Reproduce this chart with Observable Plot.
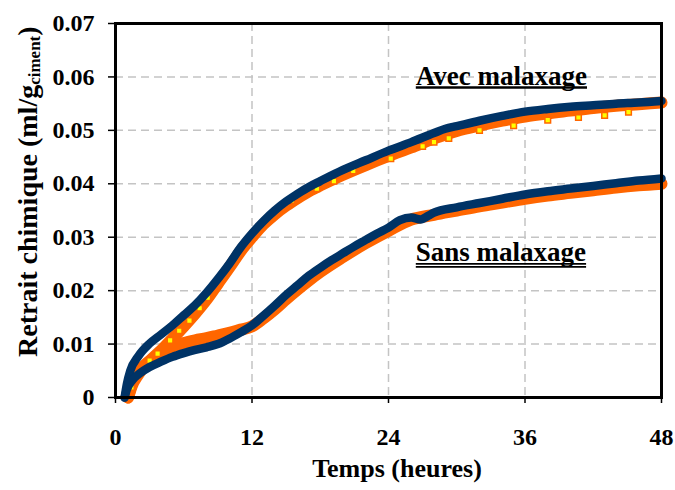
<!DOCTYPE html>
<html><head><meta charset="utf-8">
<script src="https://cdn.jsdelivr.net/npm/d3@7"></script>
<script src="https://cdn.jsdelivr.net/npm/@observablehq/plot@0.6"></script>
<style>body{margin:0;background:#fff;} svg{display:block;}</style>
</head><body><div id="chart"></div>
<script>
// --- Data ---
const xTicks = [0, 12, 24, 36, 48];
const yTicks = [0, 0.01, 0.02, 0.03, 0.04, 0.05, 0.06, 0.07];

// Avec malaxage – navy replicate
const avecBleuT = [0.8,1.0,1.3,2,3,4,5,6,7,8,9,10,11,12,13,14,15,16,17,18,20,22,24,26,28,29,30,32,34,36,38,40,42,44,46,48];
const avecBleuV = [0,0.0025,0.005,0.0077,0.0101,0.0118,0.0135,0.0154,0.0173,0.0196,0.0222,0.0250,0.0281,0.0307,0.0330,0.0350,0.0367,0.0381,0.0394,0.0405,0.0426,0.0444,0.0462,0.0478,0.0495,0.0503,0.0508,0.0518,0.0527,0.0535,0.0540,0.0544,0.0547,0.0550,0.0552,0.0555];

// Avec malaxage – orange replicate
const avecOrangeT = [1.1,1.4,2,3,4,5,6,7,8,9,10,11,12,13,14,15,16,17,18,20,22,24,26,28,30,32,34,36,38,40,42,44,46,48];
const avecOrangeV = [0,0.0020,0.0043,0.0068,0.0088,0.0110,0.0133,0.0157,0.0183,0.0213,0.0243,0.0274,0.0300,0.0324,0.0343,0.0359,0.0373,0.0386,0.0397,0.0417,0.0435,0.0452,0.0468,0.0485,0.0499,0.0509,0.0518,0.0526,0.0532,0.0537,0.0542,0.0546,0.0549,0.0552];

// Avec malaxage – orange replicate, individual marker readings
const avecMarkT = [1.4,2.1,3.0,3.7,4.8,5.6,6.5,7.4,8.1,15.5,17.7,19.2,20.9,24.2,27,28,29.3,32,35,38,40.7,43,45.1];
const avecMarkV = [0.0019,0.0045,0.0069,0.0082,0.0107,0.0125,0.0144,0.0167,0.0187,0.0369,0.0391,0.0405,0.0424,0.0447,0.0470,0.0478,0.0485,0.0500,0.0509,0.0519,0.0524,0.0528,0.0534];

// Sans malaxage – navy replicate
const sansBleuT = [0.8,1.0,1.5,2,3,4,5,6,7,8,9,10,11,12,13,14,15,16,17,18,19,20,21,22,23,24,25,26,26.8,27.5,28,30,32,34,36,38,40,42,44,46,48];
const sansBleuV = [0,0.0015,0.0033,0.0043,0.0057,0.0067,0.0076,0.0083,0.0089,0.0094,0.0100,0.0110,0.0122,0.0135,0.0153,0.0172,0.0192,0.0210,0.0228,0.0243,0.0257,0.0270,0.0283,0.0295,0.0307,0.0318,0.0332,0.0337,0.0333,0.0340,0.0346,0.0356,0.0364,0.0372,0.0380,0.0386,0.0391,0.0396,0.0401,0.0406,0.0410];

// Sans malaxage – orange replicate
const sansOrangeT = [1.1,1.5,2,3,4,5,6,7,8,9,10,11,12,13,14,15,16,17,18,20,22,24,26,28,30,32,34,36,38,40,42,44,46,48];
const sansOrangeV = [0,0.003,0.0048,0.0068,0.0081,0.0095,0.0102,0.0107,0.0111,0.0116,0.0121,0.0127,0.0133,0.0148,0.0165,0.0184,0.0202,0.0219,0.0235,0.0263,0.0289,0.0312,0.0333,0.0342,0.0350,0.0358,0.0365,0.0372,0.0378,0.0383,0.0388,0.0393,0.0397,0.0400];

// Annotations
const noteLabels = ["Avec malaxage", "Sans malaxage"];
const noteT = [26.4, 26.4];
const noteV = [0.0602, 0.0271];
const noteUnderlines = [1, 2]; // single / double underline

// --- Build tables ---
const zip = (T, V) => T.map((t, i) => ({t, v: V[i]}));
const avecBleu = zip(avecBleuT, avecBleuV);
const avecOrange = zip(avecOrangeT, avecOrangeV);
const avecMark = zip(avecMarkT, avecMarkV);
const sansBleu = zip(sansBleuT, sansBleuV);
const sansOrange = zip(sansOrangeT, sansOrangeV);
const notes = noteLabels.map((label, i) => ({label, t: noteT[i], v: noteV[i]}));

const NAVY = "#003366", ORANGE = "#FF6600", YELLOW = "#FFFF00";
const FONT = "'Liberation Serif', 'Times New Roman', serif";
const lineOpts = {x: "t", y: "v", curve: "monotone-x", strokeLinecap: "round", strokeLinejoin: "round"};

const chart = Plot.plot({
  width: 675, height: 490,
  marginLeft: 115, marginRight: 14, marginTop: 23, marginBottom: 93,
  style: {fontFamily: FONT, fontSize: "24px", fontWeight: "bold", color: "#000", background: "#fff"},
  x: {domain: [0, 48], ticks: xTicks, label: null},
  y: {domain: [0, 0.07], ticks: yTicks, label: null},
  marks: [
    Plot.gridX(xTicks.slice(1, -1), {stroke: "#c4c4c4", strokeOpacity: 1, strokeWidth: 1.5, strokeDasharray: "8,5"}),
    Plot.gridY(yTicks.slice(1, -1), {stroke: "#c4c4c4", strokeOpacity: 1, strokeWidth: 1.5, strokeDasharray: "8,5"}),
    Plot.line(avecOrange, {...lineOpts, stroke: ORANGE, strokeWidth: 12}),
    Plot.line(sansOrange, {...lineOpts, stroke: ORANGE, strokeWidth: 12}),
    Plot.dot(avecMark, {x: "t", y: "v", symbol: "square", r: 3.2, fill: YELLOW, stroke: ORANGE, strokeWidth: 1.5}),
    Plot.line(avecBleu, {...lineOpts, stroke: NAVY, strokeWidth: 8.5}),
    Plot.line(sansBleu, {...lineOpts, stroke: NAVY, strokeWidth: 8.5}),
    Plot.axisX({ticks: xTicks, tickSize: 6, tickPadding: 24, label: null, strokeWidth: 1.5}),
    Plot.axisY({ticks: yTicks, tickSize: 7, tickPadding: 14, label: null, strokeWidth: 1.5,
      tickFormat: d => d === 0 ? "0" : d.toFixed(2)}),
    Plot.frame({stroke: "#000", strokeWidth: 3}),
    Plot.text(notes, {x: "t", y: "v", text: "label", textAnchor: "start", lineAnchor: "middle", fontSize: 27, fontWeight: "bold", fill: "#000"})
  ]
});

document.getElementById("chart").appendChild(chart);
const svg = d3.select(chart);

// Underlines under the annotations (single for "Avec", double for "Sans")
svg.selectAll("text").each(function() {
  const idx = noteLabels.indexOf(this.textContent);
  if (idx < 0) return;
  const b = this.getBBox();
  const baseline = b.y + 0.891 * 27;
  const n = noteUnderlines[idx];
  const holder = d3.select(this.parentNode).append("g")
    .attr("transform", this.getAttribute("transform"));
  const offs = n === 1 ? [3] : [2.5, 5.5];
  for (const off of offs) {
    holder.append("line").attr("x1", b.x).attr("x2", b.x + b.width)
      .attr("y1", baseline + off).attr("y2", baseline + off)
      .attr("stroke", "#000").attr("stroke-width", n === 1 ? 2.5 : 1.6);
  }
});

// X axis title
svg.append("text")
  .attr("x", 397).attr("y", 477)
  .attr("text-anchor", "middle")
  .attr("font-family", FONT).attr("font-weight", "bold").attr("font-size", 26)
  .attr("fill", "#000")
  .text("Temps (heures)");

// Y axis title with subscript
const yl = svg.append("text")
  .attr("transform", "translate(37,357) rotate(-90)")
  .attr("text-anchor", "start")
  .attr("font-family", FONT).attr("font-weight", "bold").attr("font-size", 28)
  .attr("fill", "#000");
yl.append("tspan").text("Retrait chimique (ml/g");
yl.append("tspan").attr("font-size", 17).attr("dy", 3).text("ciment");
yl.append("tspan").attr("dy", -3).text(")");
</script>
</body></html>
